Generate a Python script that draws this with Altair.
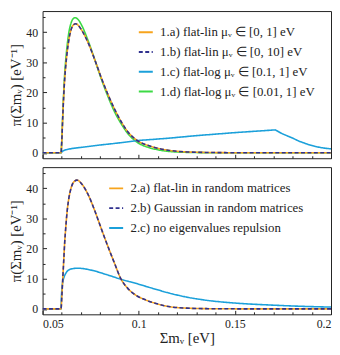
import altair as alt
import pandas as pd

# ---------------- data ----------------
TOP_NAMES = [
    "1.a) flat-lin μᵥ ∈ [0, 1] eV",
    "1.b) flat-lin μᵥ ∈ [0, 10] eV",
    "1.c) flat-log μᵥ ∈ [0.1, 1] eV",
    "1.d) flat-log μᵥ ∈ [0.01, 1] eV",
]
BOT_NAMES = [
    "2.a) flat-lin in random matrices",
    "2.b) Gaussian in random matrices",
    "2.c) no eigenvalues repulsion",
]

# top panel: 1.a and 1.b overlap
X_1AB = [0.05, 0.0596, 0.0600, 0.0605, 0.0610, 0.0615, 0.0620, 0.0628, 0.0637, 0.0648,
         0.0660, 0.0672, 0.0685, 0.0704, 0.0739, 0.0773, 0.0807, 0.0841, 0.0875, 0.0909,
         0.0943, 0.0994, 0.105, 0.110, 0.116, 0.125, 0.135, 0.150, 0.175, 0.200]
Y_1AB = [0, 0, 4, 12, 19, 24.5, 28.5, 33.5, 37.6, 40.8,
         42.4, 42.8, 42.3, 40.6, 36.2, 30.6, 24.6, 19.2, 14.4, 10.3,
         7.0, 4.0, 2.4, 1.5, 0.8, 0.3, 0.12, 0.04, 0.01, 0.0]

X_1C = [0.05, 0.0596, 0.0605, 0.062, 0.065, 0.070, 0.080, 0.090, 0.100, 0.1147,
        0.130, 0.150, 0.171, 0.1747, 0.180, 0.1832, 0.1875, 0.1918, 0.1960, 0.200]
Y_1C = [0, 0, 0.6, 1.0, 1.4, 1.8, 2.6, 3.3, 4.1, 4.8,
        5.7, 6.7, 7.6, 6.3, 4.9, 3.9, 2.9, 2.1, 1.6, 1.3]

X_1D = [0.05, 0.0596, 0.0600, 0.0605, 0.0610, 0.0615, 0.0620, 0.0628, 0.0637, 0.0648,
        0.0660, 0.0670, 0.0685, 0.0704, 0.0739, 0.0773, 0.0807, 0.0841, 0.0875, 0.0909,
        0.0943, 0.0994, 0.105, 0.110, 0.116, 0.125, 0.135, 0.150, 0.200]
Y_1D = [0, 0, 4.3, 12.8, 20.2, 26.2, 30.5, 35.7, 40.0, 43.0,
        44.5, 44.8, 44.2, 42.2, 36.8, 30.6, 24.2, 18.5, 13.5, 9.6,
        6.4, 3.4, 1.8, 1.0, 0.45, 0.15, 0.05, 0.01, 0.0]

# bottom panel: 2.a and 2.b overlap
X_2AB = [0.05, 0.0596, 0.0600, 0.0605, 0.0610, 0.0615, 0.0620, 0.0628, 0.0637, 0.0648,
         0.0660, 0.0679, 0.0704, 0.0739, 0.0773, 0.0807, 0.0841, 0.0875, 0.0904, 0.0943,
         0.0994, 0.1035, 0.1079, 0.1164, 0.125, 0.135, 0.150, 0.175, 0.200]
Y_2AB = [0, 0, 4, 10, 16, 22, 26.5, 32.5, 36.8, 40.0,
         41.9, 42.7, 41.4, 37.6, 32.3, 26.3, 20.5, 15.0, 10.4, 6.8,
         4.2, 3.0, 2.0, 0.7, 0.25, 0.08, 0.02, 0.0, 0.0]

X_2C = [0.05, 0.0596, 0.0598, 0.0601, 0.0606, 0.0612, 0.0619, 0.0630, 0.0653, 0.0685,
        0.0705, 0.0756, 0.0841, 0.0904, 0.0994, 0.1062, 0.115, 0.125, 0.1336, 0.1507,
        0.1678, 0.185, 0.200]
Y_2C = [0, 0, 4.0, 7.0, 9.2, 10.6, 11.6, 12.6, 13.3, 13.5,
        13.4, 12.8, 11.2, 9.9, 8.3, 7.0, 5.4, 3.9, 3.0, 1.9,
        1.3, 0.85, 0.6]

TOP_COLORS = ["#F7A41D", "#30318F", "#1BA0DA", "#3CDA45"]
BOT_COLORS = ["#F7A41D", "#30318F", "#1BA0DA"]
TOP_DASHES = [[1, 0], [4, 2.5], [1, 0], [1, 0]]
BOT_DASHES = [[1, 0], [4, 2.5], [1, 0]]

X_MAJOR = [0.05, 0.1, 0.15, 0.2]
X_MINOR = [0.06, 0.07, 0.08, 0.09, 0.11, 0.12, 0.13, 0.14, 0.16, 0.17, 0.18, 0.19]
Y_MAJOR = [0, 10, 20, 30, 40]
Y_MINOR = [5, 15, 25, 35, 45]


def frame(xs, ys, name):
    return pd.DataFrame({"x": xs, "y": ys, "series": name})


top_df = pd.concat([
    frame(X_1AB, Y_1AB, TOP_NAMES[0]),
    frame(X_1AB, Y_1AB, TOP_NAMES[1]),
    frame(X_1C, Y_1C, TOP_NAMES[2]),
    frame(X_1D, Y_1D, TOP_NAMES[3]),
], ignore_index=True)

bot_df = pd.concat([
    frame(X_2AB, Y_2AB, BOT_NAMES[0]),
    frame(X_2AB, Y_2AB, BOT_NAMES[1]),
    frame(X_2C, Y_2C, BOT_NAMES[2]),
], ignore_index=True)

FONT = "Liberation Serif"
X_SCALE = alt.Scale(domain=[0.05, 0.2], nice=False, zero=False)
Y_SCALE = alt.Scale(domain=[-1.8, 47], nice=False, zero=False)
INK = "#222222"
Y_TITLE = "π(Σmᵥ) [eV⁻¹]"
X_TITLE = "Σmᵥ [eV]"


def panel(df, names, colors, dashes, order, interps, legend_x, bottom):
    leg = alt.Legend(orient="none", legendX=legend_x, legendY=13, title=None,
                     symbolType="stroke", symbolSize=200, symbolStrokeWidth=2,
                     labelFontSize=13, labelFont=FONT, labelOffset=6, rowPadding=4,
                     padding=0, labelLimit=400)
    color = alt.Color("series:N", scale=alt.Scale(domain=names, range=colors), legend=leg)
    dash = alt.StrokeDash("series:N", scale=alt.Scale(domain=names, range=dashes), legend=leg)

    if bottom:
        major_x = alt.Axis(values=X_MAJOR, orient="bottom", offset=-4, tickSize=4, domain=False,
                           grid=False, format="~g", labelFlush=True, labelPadding=4,
                           title=X_TITLE, titlePadding=2, titleFontSize=15)
    else:
        major_x = alt.Axis(values=X_MAJOR, orient="bottom", offset=-4, tickSize=4, domain=False,
                           grid=False, labels=False, title=None)
    minor_x = alt.Axis(values=X_MINOR, orient="bottom", offset=-2.5, tickSize=2.5, domain=False,
                       grid=False, labels=False, title=None)
    major_y = alt.Axis(values=Y_MAJOR, orient="left", offset=-4, tickSize=4, domain=False,
                       grid=False, labelPadding=5, title=Y_TITLE, titlePadding=2,
                       titleFontSize=15)
    minor_y = alt.Axis(values=Y_MINOR, orient="left", offset=-2.5, tickSize=2.5, domain=False,
                       grid=False, labels=False, title=None)

    major = alt.Chart(df).mark_line(opacity=0).encode(
        x=alt.X("x:Q", scale=X_SCALE, axis=major_x),
        y=alt.Y("y:Q", scale=Y_SCALE, axis=major_y),
    )
    minor = alt.Chart(df).mark_line(opacity=0).encode(
        x=alt.X("x:Q", scale=X_SCALE, axis=minor_x),
        y=alt.Y("y:Q", scale=Y_SCALE, axis=minor_y),
    )
    layers = []
    for idx in order:
        layers.append(
            alt.Chart(df)
            .transform_filter(alt.FieldEqualPredicate(field="series", equal=names[idx]))
            .mark_line(strokeWidth=1.6, interpolate=interps[idx], clip=True)
            .encode(
                x=alt.X("x:Q", scale=X_SCALE, axis=None),
                y=alt.Y("y:Q", scale=Y_SCALE, axis=None),
                color=color,
                strokeDash=dash,
            )
        )
    return (
        alt.layer(major, minor, *layers)
        .resolve_axis(x="independent", y="independent")
        .properties(width=292, height=149)
    )


top = panel(top_df, TOP_NAMES, TOP_COLORS, TOP_DASHES, [3, 2, 0, 1],
            ["monotone", "monotone", "linear", "monotone"], 96, False)
bottom = panel(bot_df, BOT_NAMES, BOT_COLORS, BOT_DASHES, [2, 0, 1],
               ["monotone", "monotone", "monotone"], 66, True)

chart = (
    alt.vconcat(top, bottom, spacing=6)
    .resolve_scale(color="independent", strokeDash="independent")
    .resolve_legend(color="independent", strokeDash="independent")
    .properties(padding=0)
    .configure(font=FONT)
    .configure_view(stroke=INK, strokeWidth=1)
    .configure_axis(labelFontSize=12, titleFontSize=13, labelColor=INK, titleColor=INK,
                    labelFont=FONT, titleFont=FONT, tickColor=INK, titleFontWeight="normal")
    .configure_legend(labelFontSize=13, labelColor=INK, labelFont=FONT)
)

chart.save("out.html", embed_options={"renderer": "svg", "actions": False})
